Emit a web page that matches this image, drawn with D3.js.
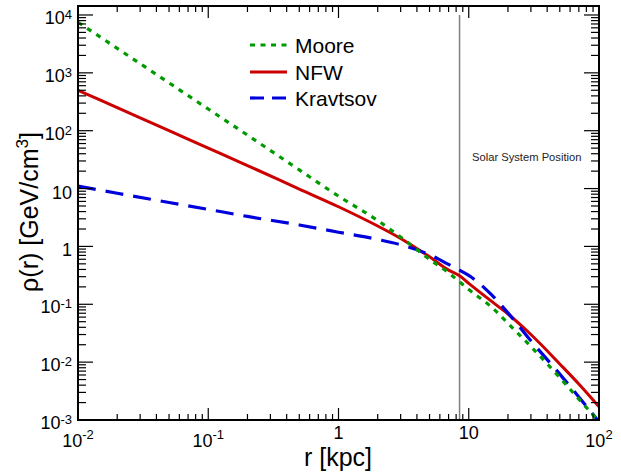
<!DOCTYPE html>
<html><head><meta charset="utf-8">
<script src="https://cdn.jsdelivr.net/npm/d3@7"></script>
<style>html,body{margin:0;padding:0;background:#fff;}svg{display:block;}</style>
</head><body>
<svg id="chart" width="621" height="472"></svg>
<script>
// ---- data ----
const radius = [0.01,0.02,0.05,0.1,0.2,0.5,1,2,3,5,7,8.5,10,15,20,30,50,70,100];
const moore    = [7500,2650,670,237,84,21,7.4,2.8,1.45,0.60,0.35,0.245,0.18,0.089,0.047,0.0186,0.0054,0.0023,0.00095];
const nfw      = [500,250,100,50,25,9.8,4.85,2.25,1.37,0.66,0.39,0.31,0.23,0.112,0.068,0.030,0.0093,0.0042,0.0017];
const kravtsov = [11,8.3,5.75,4.37,3.3,2.35,1.76,1.32,1.07,0.72,0.49,0.39,0.316,0.145,0.071,0.0234,0.0062,0.0025,0.00093];
const seriesNames = ["Moore","NFW","Kravtsov"];
const solarRadius = 8.5;
const solarLabel = "Solar System Position";
const xTickValues = [0.01,0.1,1,10,100];
const xTickLabels = ["10^{-2}","10^{-1}","1","10","10^{2}"];
const yTickValues = [1e-3,1e-2,1e-1,1,10,100,1e3,1e4];
const yTickLabels = ["10^{-3}","10^{-2}","10^{-1}","1","10","10^{2}","10^{3}","10^{4}"];
const xTitle = "r [kpc]";
const xDomain = [0.01, 100];
const yDomain = [1e-3, 1.43e4];

// ---- layout ----
const svg = d3.select("#chart");
const L = 78, R = 599, T = 6, B = 420;
const FONT = "'Liberation Sans', Arial, Helvetica, sans-serif";
const x = d3.scaleLog().domain(xDomain).range([L, R]);
const y = d3.scaleLog().domain(yDomain).range([B, T]);

const isMajor = v => Math.abs(Math.log10(v) - Math.round(Math.log10(v))) < 1e-9;

// curves
const styles = {
  Moore:    {color:"#009a00", dash:"5,6", width:3.2},
  NFW:      {color:"#cc0000", dash:null, width:3},
  Kravtsov: {color:"#0000dd", dash:"18,10", width:3.2}
};
const seriesData = {Moore: moore, NFW: nfw, Kravtsov: kravtsov};
svg.append("clipPath").attr("id","clip").append("rect")
  .attr("x",L).attr("y",T).attr("width",R-L).attr("height",B-T);
const line = d3.line().x(d=>x(d[0])).y(d=>y(d[1])).curve(d3.curveMonotoneX);
const gCurves = svg.append("g").attr("clip-path","url(#clip)");

// solar line
gCurves.append("line")
  .attr("x1",x(solarRadius)).attr("x2",x(solarRadius))
  .attr("y1",y(1e4)).attr("y2",y(1e-3))
  .attr("stroke","#808080").attr("stroke-width",1.5);

["NFW","Kravtsov","Moore"].forEach(name=>{
  const st = styles[name];
  gCurves.append("path")
    .datum(radius.map((r,i)=>[r, seriesData[name][i]]))
    .attr("d", line)
    .attr("fill","none")
    .attr("stroke", st.color)
    .attr("stroke-width", st.width)
    .attr("stroke-dasharray", st.dash);
});

// ticks
const gT = svg.append("g").attr("stroke","#000").attr("stroke-width",1.2);
x.ticks().forEach(v=>{
  const len = isMajor(v) ? 12 : 6;
  const px = x(v);
  gT.append("line").attr("x1",px).attr("x2",px).attr("y1",B).attr("y2",B-len);
  gT.append("line").attr("x1",px).attr("x2",px).attr("y1",T).attr("y2",T+len);
});
y.ticks().filter(v=>v<=yDomain[1]).forEach(v=>{
  const len = isMajor(v) ? 15 : 8;
  const py = y(v);
  gT.append("line").attr("x1",L).attr("x2",L+len).attr("y1",py).attr("y2",py);
  gT.append("line").attr("x1",R).attr("x2",R-len).attr("y1",py).attr("y2",py);
});

// frame
svg.append("rect").attr("x",L).attr("y",T).attr("width",R-L).attr("height",B-T)
  .attr("fill","none").attr("stroke","#000").attr("stroke-width",2);

// tick labels
function label(g, str, px, py, anchor, supRaise){
  const m = str.match(/^(.*?)\^\{(.*)\}$/);
  const t = g.append("text").attr("x",px).attr("y",py)
    .attr("text-anchor",anchor).attr("font-family",FONT).attr("font-size",18).attr("fill","#000");
  if(m){
    t.append("tspan").text(m[1]);
    t.append("tspan").attr("dy",-supRaise).attr("font-size",13).text(m[2]);
  } else t.text(str);
  return t;
}
const gL = svg.append("g");
xTickValues.forEach((v,i)=>{
  const s = xTickLabels[i];
  const hasExp = s.includes("^");
  label(gL, s, x(v), hasExp ? 447 : 439, "middle", 8);
});
yTickValues.forEach((v,i)=>{
  const s = yTickLabels[i];
  const hasExp = s.includes("^");
  label(gL, s, 72, y(v) + (hasExp ? 9 : 10), "end", 5);
});

// axis titles
svg.append("text").attr("x",338).attr("y",466).attr("text-anchor","middle")
  .attr("font-family",FONT).attr("font-size",25).text(xTitle);
const yt = svg.append("text").attr("transform","translate(38,212) rotate(-90)")
  .attr("text-anchor","middle").attr("font-family",FONT).attr("font-size",25);
yt.append("tspan").text("ρ(r) [GeV/cm");
yt.append("tspan").attr("dy",-10).attr("font-size",17).text("3");
yt.append("tspan").attr("dy",10).text("]");

// solar label
svg.append("text").attr("x",472).attr("y",161).attr("font-family",FONT)
  .attr("font-size",11.2).attr("fill","#222").text(solarLabel);

// legend
const legY = [45, 72, 98];
seriesNames.forEach((name,i)=>{
  const st = styles[name];
  svg.append("line").attr("x1",250).attr("x2",287).attr("y1",legY[i]).attr("y2",legY[i])
    .attr("stroke",st.color).attr("stroke-width",st.width)
    .attr("stroke-dasharray", name==="Moore" ? "5,5.5" : (name==="Kravtsov" ? "14,8" : null));
  svg.append("text").attr("x",295).attr("y",legY[i]+7.5).attr("font-family",FONT)
    .attr("font-size",21).text(name);
});
</script>
</body></html>
